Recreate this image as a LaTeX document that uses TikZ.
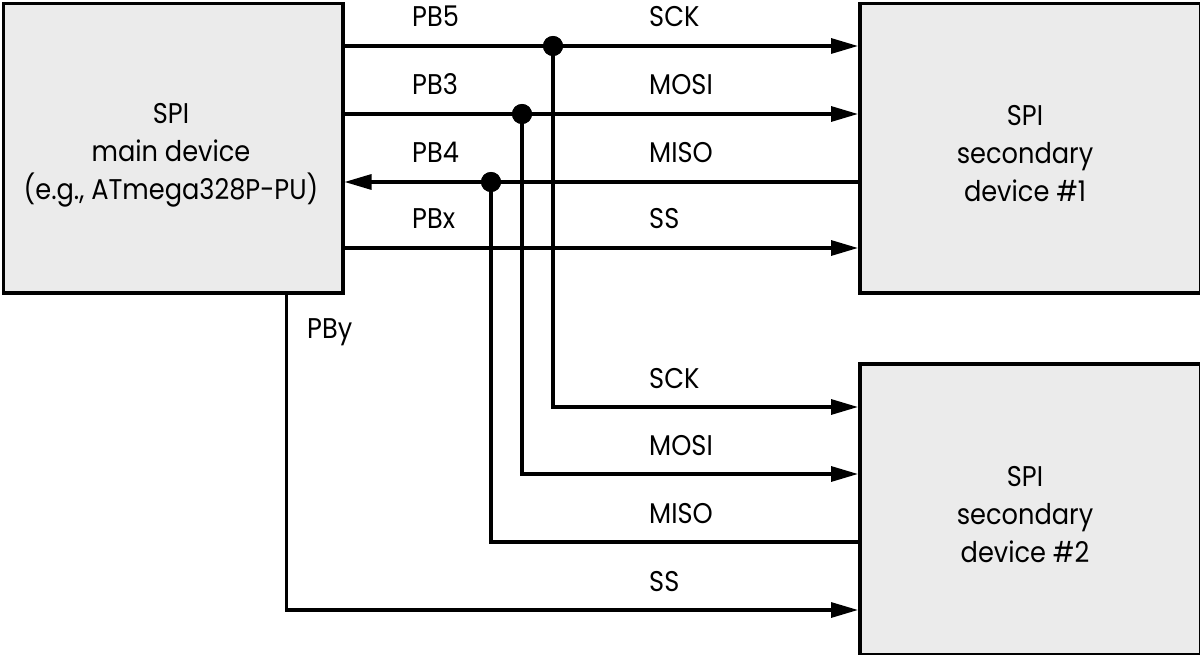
\documentclass[tikz,border=0pt]{standalone}
\usepackage{fontspec}
\setmainfont{Poppins}[FakeStretch=0.9]
\usetikzlibrary{arrows.meta}
\definecolor{boxgray}{RGB}{235,235,235}
\begin{document}
\begin{tikzpicture}[x=1pt,y=-1pt,
  every node/.style={font=\fontsize{28.5}{38}\selectfont, inner sep=0pt},
  devbox/.style={draw=black, fill=boxgray, line width=3.5pt, rectangle, anchor=north west},
  wire/.style={line width=3.2pt},
  arr/.style={wire, -{Triangle[length=27pt,width=15pt]}},
  jdot/.style={circle, fill=black, minimum size=20pt},
  lbl/.style={anchor=base west},
  boxtext/.style={anchor=base}]
\useasboundingbox (0,0) rectangle (1200,655);
\node[devbox, minimum width=339.25pt, minimum height=289.5pt] (main) at (1.75,1.75) {};
\node[devbox, minimum width=340.5pt, minimum height=289.75pt] (sec1) at (858,1.75) {};
\node[devbox, minimum width=340.5pt, minimum height=291pt] (sec2) at (858,362) {};
% box texts
\node[boxtext] (m1) at (171,124) {SPI};
\node[boxtext] (m2) at (171,162) {main device};
\node[boxtext] (m3) at (171,200) {(e.g., ATmega328P-PU)};
\node[boxtext] (a1) at (1025,126) {SPI};
\node[boxtext] (a2) at (1025,164) {secondary};
\node[boxtext] (a3) at (1025,202) {device \#1};
\node[boxtext] (b1) at (1025,486) {SPI};
\node[boxtext] (b2) at (1025,524) {secondary};
\node[boxtext] (b3) at (1025,562) {device \#2};
% junction dots
\node[jdot] (d1) at (553,46) {};
\node[jdot] (d2) at (522,114) {};
\node[jdot] (d3) at (491,182) {};
\coordinate (ss) at (0,248);
\coordinate (pby) at (286.5,0);
\coordinate (c1) at (553,407);
\coordinate (c2) at (522,474);
\coordinate (c3) at (491,542);
\coordinate (c4) at (286.5,610);
% top wires
\draw[arr] (main.east |- d1) -- (sec1.west |- d1);
\draw[arr] (main.east |- d2) -- (sec1.west |- d2);
\draw[arr] (sec1.west |- d3) -- (main.east |- d3);
\draw[arr] (main.east |- ss) -- (sec1.west |- ss);
% branches to secondary 2
\draw[arr] (d1.center) -- (c1) -- (sec2.west |- c1);
\draw[arr] (d2.center) -- (c2) -- (sec2.west |- c2);
\draw[wire] (d3.center) -- (c3) -- (sec2.west |- c3);
\draw[arr] (main.south -| pby) -- (c4) -- (sec2.west |- c4);
% dots on top
\node[jdot] at (d1) {};
\node[jdot] at (d2) {};
\node[jdot] at (d3) {};
% labels
\node[lbl] (l1) at (412,27) {PB5};
\node[lbl] (l2) at (412,95) {PB3};
\node[lbl] (l3) at (412,163) {PB4};
\node[lbl] (l4) at (412,229) {PBx};
\node[lbl] (r1) at (649,27) {SCK};
\node[lbl] (r2) at (649,95) {MOSI};
\node[lbl] (r3) at (649,163) {MISO};
\node[lbl] (r4) at (649,229) {SS};
\node[lbl] (s1) at (649,388) {SCK};
\node[lbl] (s2) at (649,455) {MOSI};
\node[lbl] (s3) at (649,523) {MISO};
\node[lbl] (s4) at (649,591) {SS};
\node[lbl] (py) at (307,338) {PBy};
\end{tikzpicture}
\end{document}
